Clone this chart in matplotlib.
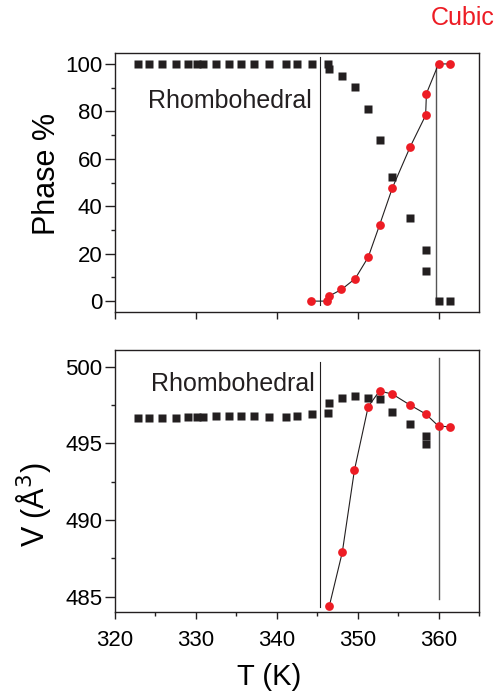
import matplotlib.pyplot as plt

plt.rcParams['font.family'] = ['Liberation Sans', 'DejaVu Sans']

black = '#231f20'
red = '#ed1c24'

# rhombohedral phase fraction (black squares)
t_rh = [322.8, 324.2, 325.8, 327.5, 329.0, 330.2, 330.9, 332.5, 334.1, 335.6,
        337.2, 339.1, 341.1, 342.5, 344.4, 346.3, 346.5, 348.1, 349.7, 351.3,
        352.7, 354.3, 356.5, 358.4, 358.5, 360.0, 361.4]
phase_rh = [100, 100, 100, 100, 100, 100, 100, 100, 100, 100,
            100, 100, 100, 100, 100, 100, 97.9, 95.1, 90.3, 81.2,
            68.0, 52.2, 34.9, 21.5, 12.6, 0, 0]

# cubic phase fraction (red circles)
t_cu = [344.2, 346.2, 346.4, 348.0, 349.7, 351.3, 352.7, 354.3, 356.5, 358.4,
        358.5, 360.0, 361.4]
phase_cu = [0, 0, 2.0, 4.9, 9.5, 18.5, 32.0, 47.8, 65.1, 78.3, 87.5, 100, 100]

# cell volume
t_v_rh = t_rh[:25]
v_rh = [496.67, 496.65, 496.67, 496.67, 496.72, 496.72, 496.72, 496.78, 496.8, 496.8,
        496.78, 496.76, 496.76, 496.8, 496.91, 496.98, 497.67, 497.98, 498.13, 497.98,
        497.91, 497.07, 496.26, 495.5, 494.98]
t_v_cu = [346.5, 348.1, 349.6, 351.3, 352.7, 354.3, 356.5, 358.4, 360.0, 361.4]
v_cu = [484.4, 487.9, 493.26, 497.4, 498.43, 498.22, 497.5, 496.93, 496.13, 496.09]

# transition markers
t_lines = [345.4, 359.7]

fig = plt.figure(figsize=(5.03, 6.92), dpi=100)
ax1 = fig.add_axes([0.2286, 0.5491, 0.7237, 0.3743])
ax2 = fig.add_axes([0.2286, 0.1156, 0.7237, 0.3786])

ax1.plot([t_lines[0], t_lines[0]], [103, -1.5], color=black, lw=0.8)
ax1.plot([t_lines[1], t_lines[1]], [100, 0], color='#555555', lw=1.0)
ax1.plot(t_cu, phase_cu, color=black, lw=0.8)
ax1.plot(t_rh, phase_rh, 's', color=black, ms=5.6, mec='none')
ax1.plot(t_cu, phase_cu, 'o', color=red, ms=6.3, mec='none')
ax1.text(344.3, 84.2, 'Rhombohedral', fontsize=18, ha='right', va='center', color=black)
ax1.set_xlim(320, 365)
ax1.set_ylim(-4.6, 104.6)
ax1.set_yticks([0, 20, 40, 60, 80, 100])
ax1.set_yticks(range(0, 101, 10), minor=True)
ax1.set_xticks([320, 330, 340, 350, 360])
ax1.set_xticklabels([])
ax1.set_ylabel('Phase %', fontsize=22)
ax1.yaxis.set_label_coords(-0.146, 0.535)

ax2.plot([t_lines[0], t_lines[0]], [500.3, 484.3], color=black, lw=0.8)
ax2.plot([360.0, 360.0], [500.57, 484.85], color='#555555', lw=1.0)
ax2.plot(t_v_cu, v_cu, color=black, lw=0.8)
ax2.plot(t_v_rh, v_rh, 's', color=black, ms=5.6, mec='none')
ax2.plot(t_v_cu, v_cu, 'o', color=red, ms=6.3, mec='none')
ax2.text(344.7, 498.9, 'Rhombohedral', fontsize=18, ha='right', va='center', color=black)
ax2.set_xlim(320, 365)
ax2.set_ylim(484, 501.1)
ax2.set_yticks([485, 490, 495, 500])
ax2.set_yticks([485, 487.5, 490, 492.5, 495, 497.5, 500], minor=True)
ax2.set_xticks([320, 330, 340, 350, 360])
ax2.set_xticks(range(320, 366, 5), minor=True)
ax2.set_ylabel('V (Å$^3$)', fontsize=22)
ax2.yaxis.set_label_coords(-0.171, 0.41)
ax2.set_xlabel('T (K)', fontsize=21)
ax2.xaxis.set_label_coords(0.423, -0.195)

for ax in (ax1, ax2):
    for s in ax.spines.values():
        s.set_linewidth(1.0)
        s.set_color(black)
    ax.tick_params(which='both', direction='out', top=False, right=False,
                   color=black, labelsize=16, width=1.0)
    ax.tick_params(axis='y', which='major', length=7, pad=2)
    ax.tick_params(axis='x', which='major', length=5, pad=8)
    ax.tick_params(which='minor', length=3)

fig.text(0.984, 0.974, 'Cubic', color=red, fontsize=18, ha='right', va='center')

fig.savefig('out.png', dpi=100)
